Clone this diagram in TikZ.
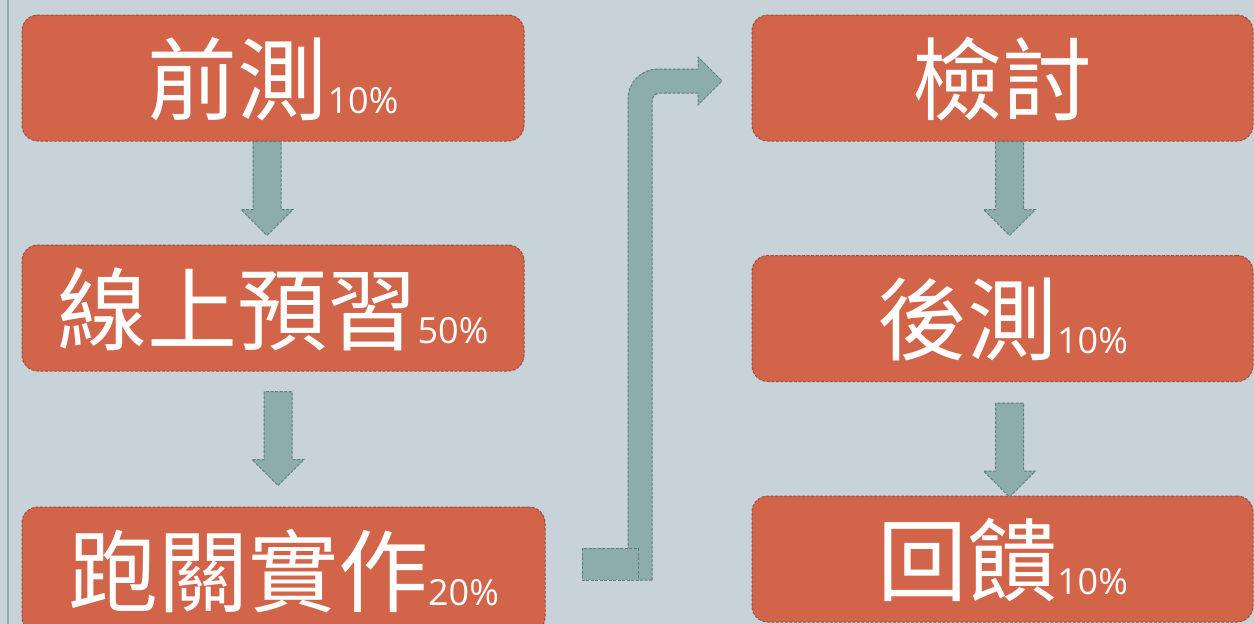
\documentclass[tikz,border=0pt]{standalone}
\usepackage{fontspec}
\newfontfamily\cjk{Noto Sans CJK TC}
\newfontfamily\pct{Open Sans}
\usetikzlibrary{calc}
\definecolor{bg}{HTML}{C7D2D9}
\definecolor{boxfill}{HTML}{D2644A}
\definecolor{boxline}{HTML}{A04A38}
\definecolor{arrfill}{HTML}{8DADAD}
\definecolor{arrline}{HTML}{5E7E80}
\definecolor{frameline}{HTML}{8FA8A8}
\newcommand\lbl[2]{{\cjk\fontsize{90}{90}\selectfont #1}{\pct\fontsize{36}{36}\selectfont #2}}
\newcommand\blockdown[2]{%
  \draw[arrowblk] ($#1+(-14,0)$) -- ++(0,#2-26) -- ++(-12,0) -- ++(26,26) -- ++(26,-26) -- ++(-12,0) -- ++(0,-#2+26) -- cycle;}
\tikzset{
  stepbox/.style={draw=boxline, fill=boxfill, dash pattern=on 3pt off 1.5pt, line width=1pt,
    rounded corners=16pt, minimum height=126pt, inner sep=0pt, text height=70pt, text depth=0pt,
    text=white, align=center},
  arrowblk/.style={draw=arrline, fill=arrfill, dash pattern=on 3pt off 1.5pt, line width=1pt, line join=miter}
}
\begin{document}
\begin{tikzpicture}[x=1pt,y=-1pt]
\useasboundingbox (0,0) rectangle (1254,624);
\fill[bg] (0,0) rectangle (1254,624);
\draw[frameline, line width=1.5pt] (8,0) -- (8,624);

\node[stepbox, minimum width=502pt] (n1) at (273,78) {\lbl{前測}{10\%}};
\node[stepbox, minimum width=502pt] (n2) at (273,308) {\lbl{線上預習}{50\%}};
\node[stepbox, minimum width=523pt] (n3) at (283.5,570) {\lbl{跑關實作}{20\%}};
\node[stepbox, minimum width=501pt] (n4) at (1002.5,78) {\lbl{檢討}{}};
\node[stepbox, minimum width=501pt] (n5) at (1002.5,318.5) {\lbl{後測}{10\%}};
\node[stepbox, minimum width=501pt] (n6) at (1002.5,559) {\lbl{回饋}{10\%}};

\blockdown{(n1.south)+(-6,0)}{94}
\blockdown{(n2.south)+(5,20)}{94}
\blockdown{(n4.south)+(7,0)}{94}
\blockdown{(n5.south)+(7,21)}{94}

% bent arrow from n3 to n4
\draw[arrowblk] (652,580) -- (652,101) .. controls (652,96.6) and (655.6,93) .. (660,93)
  -- (698,93) -- (698,105) -- (722,81) -- (698,57) -- (698,69) -- (658,69)
  .. controls (641.4,69) and (628,82.4) .. (628,99) -- (628,580) -- cycle;
\draw[arrowblk] (582,548) rectangle (638,580);
\end{tikzpicture}
\end{document}
